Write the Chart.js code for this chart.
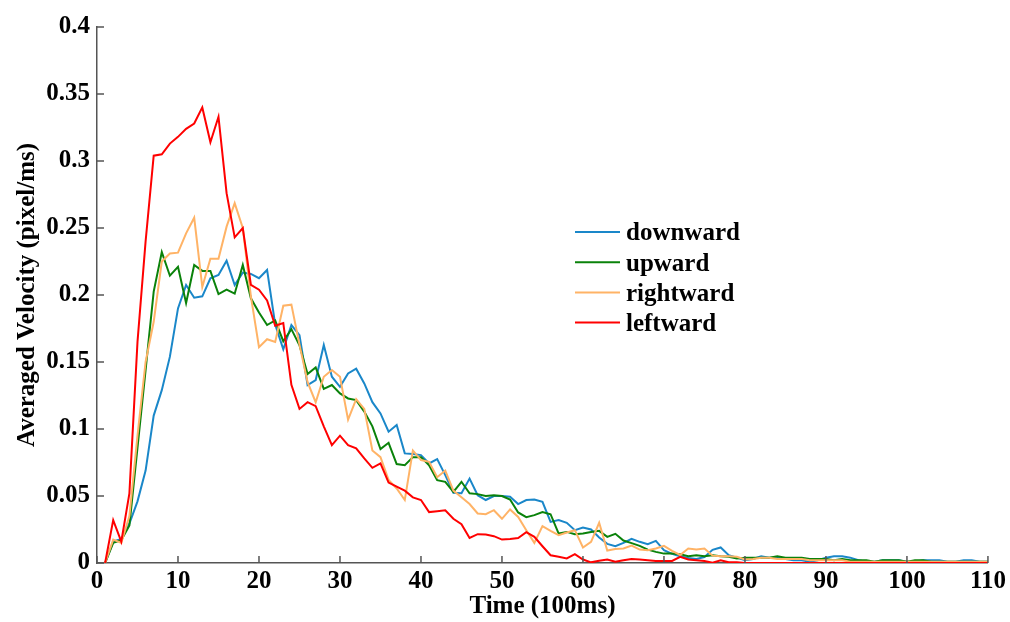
<!DOCTYPE html>
<html>
<head>
<meta charset="utf-8">
<script src="https://cdn.jsdelivr.net/npm/chart.js@4/dist/chart.umd.min.js"></script>
<style>
  html, body { margin: 0; padding: 0; background: #fff; }
  #wrap { width: 1010px; height: 622px; }
</style>
</head>
<body>
<div id="wrap"><canvas id="velocityChart" width="1010" height="622"></canvas></div>
<script>
// time axis (100ms steps), one sample per step
const time = Array.from({ length: 110 }, (_, i) => i + 1);

const downward = [
  0, 0.016, 0.018, 0.0295, 0.046, 0.069, 0.110, 0.129, 0.154, 0.190,
  0.2075, 0.198, 0.199, 0.2125, 0.215, 0.2256, 0.2075, 0.2167, 0.2157, 0.2125,
  0.2187, 0.178, 0.1594, 0.1776, 0.170, 0.1328, 0.1365, 0.1627, 0.139, 0.1315,
  0.1415, 0.145, 0.134, 0.120, 0.1116, 0.098, 0.103, 0.0818, 0.0813, 0.0805,
  0.0743, 0.0775, 0.0656, 0.0524, 0.052, 0.063, 0.0506, 0.047, 0.050, 0.050,
  0.0494, 0.044, 0.047, 0.0474, 0.0456, 0.0307, 0.032, 0.030, 0.0245, 0.0265,
  0.025, 0.019, 0.0143, 0.0125, 0.015, 0.018, 0.0158, 0.014, 0.0165, 0.0096,
  0.0068, 0.005, 0.0037, 0.003, 0.0045, 0.0098, 0.0116, 0.0058, 0.004, 0.002,
  0.003, 0.005, 0.004, 0.004, 0.003, 0.002, 0.002, 0.001, 0.002, 0.004,
  0.005, 0.005, 0.004, 0.002, 0.001, 0.001, 0.002, 0.002, 0.002, 0.001,
  0.001, 0.002, 0.002, 0.002, 0.001, 0.001, 0.002, 0.002, 0.001, 0.001
];

const upward = [
  0, 0.015, 0.017, 0.028, 0.086, 0.144, 0.2025, 0.232, 0.2144, 0.221,
  0.194, 0.2224, 0.218, 0.218, 0.2007, 0.204, 0.201, 0.2224, 0.1975, 0.187,
  0.1776, 0.181, 0.1655, 0.1745, 0.1625, 0.141, 0.146, 0.130, 0.1328, 0.1266,
  0.1228, 0.1216, 0.113, 0.102, 0.085, 0.0897, 0.0738, 0.073, 0.079, 0.079,
  0.073, 0.0618, 0.0606, 0.053, 0.0606, 0.052, 0.0514, 0.050, 0.0506, 0.050,
  0.0474, 0.0377, 0.0342, 0.0357, 0.038, 0.0364, 0.022, 0.0232, 0.0215, 0.022,
  0.0232, 0.024, 0.0195, 0.0218, 0.0168, 0.0148, 0.0128, 0.010, 0.0083, 0.007,
  0.007, 0.0066, 0.005, 0.0058, 0.005, 0.0058, 0.005, 0.0046, 0.0034, 0.004,
  0.004, 0.004, 0.004, 0.005, 0.004, 0.004, 0.004, 0.003, 0.003, 0.003,
  0.002, 0.003, 0.002, 0.002, 0.002, 0.001, 0.002, 0.002, 0.002, 0.001,
  0.002, 0.002, 0.001, 0.001, 0.001, 0.001, 0.001, 0.001, 0.001, 0.001
];

const rightward = [
  0, 0.0175, 0.015, 0.035, 0.095, 0.15, 0.18, 0.225, 0.231, 0.2316,
  0.246, 0.2577, 0.206, 0.227, 0.227, 0.251, 0.2685, 0.25, 0.199, 0.161,
  0.167, 0.165, 0.192, 0.1928, 0.163, 0.135, 0.120, 0.139, 0.144, 0.139,
  0.107, 0.1223, 0.115, 0.084, 0.079, 0.062, 0.0556, 0.047, 0.084, 0.0768,
  0.0755, 0.064, 0.069, 0.054, 0.049, 0.044, 0.037, 0.0364, 0.0394, 0.033,
  0.040, 0.0344, 0.0245, 0.015, 0.0275, 0.024, 0.0208, 0.0228, 0.0245, 0.0116,
  0.0158, 0.030, 0.0093, 0.0105, 0.0108, 0.013, 0.010, 0.0096, 0.0108, 0.0128,
  0.009, 0.006, 0.0108, 0.010, 0.0108, 0.0055, 0.005, 0.005, 0.0046, 0.0026,
  0.003, 0.004, 0.004, 0.003, 0.003, 0.003, 0.003, 0.002, 0.002, 0.002,
  0.002, 0.002, 0.001, 0.001, 0.001, 0.001, 0.001, 0.001, 0.001, 0.001,
  0.001, 0.001, 0.001, 0.001, 0.001, 0.001, 0.001, 0.001, 0.001, 0.001
];

const leftward = [
  0, 0.032, 0.016, 0.052, 0.165, 0.24, 0.304, 0.305, 0.313, 0.318,
  0.324, 0.328, 0.340, 0.314, 0.333, 0.276, 0.243, 0.250, 0.2075, 0.204,
  0.196, 0.177, 0.179, 0.133, 0.115, 0.120, 0.117, 0.102, 0.088, 0.095,
  0.088, 0.0855, 0.078, 0.071, 0.0743, 0.060, 0.057, 0.054, 0.049, 0.047,
  0.038, 0.0387, 0.0394, 0.033, 0.029, 0.0187, 0.0215, 0.0213, 0.020, 0.0175,
  0.018, 0.0187, 0.023, 0.0195, 0.0125, 0.0058, 0.0046, 0.0034, 0.0066, 0.0026,
  0.0005, 0.0016, 0.0026, 0.001, 0.002, 0.003, 0.0026, 0.002, 0.0015, 0.0015,
  0.0015, 0.0046, 0.0026, 0.002, 0.0015, 0.0002, 0.002, 0.0005, 0.0005, 0,
  0, 0, 0, 0, 0, 0, 0, 0, 0, 0,
  0, 0, 0, 0, 0, 0, 0, 0, 0, 0,
  0, 0, 0, 0, 0, 0, 0, 0, 0, 0
];

const seriesNames = ['downward', 'upward', 'rightward', 'leftward'];
const seriesColors = ['#1a87c9', '#0a820a', '#ffb366', '#ff0000'];
const seriesValues = [downward, upward, rightward, leftward];

const FONT = '"Liberation Serif", "Times New Roman", serif';
const AXIS_COLOR = '#555';

function toPoints(values) {
  return values.map((v, i) => ({ x: time[i], y: v }));
}

// ticks drawn inside the plot, like the original figure
const innerTicks = {
  id: 'innerTicks',
  afterDraw(chart) {
    const ctx = chart.ctx;
    const area = chart.chartArea;
    const xs = chart.scales.x;
    const ys = chart.scales.y;
    ctx.save();
    ctx.strokeStyle = AXIS_COLOR;
    ctx.lineWidth = 1.5;
    ctx.beginPath();
    xs.ticks.forEach(t => {
      const px = xs.getPixelForValue(t.value);
      ctx.moveTo(px, area.bottom);
      ctx.lineTo(px, area.bottom - 7);
    });
    ys.ticks.forEach(t => {
      const py = ys.getPixelForValue(t.value);
      ctx.moveTo(area.left, py);
      ctx.lineTo(area.left + 7, py);
    });
    ctx.stroke();
    ctx.restore();
  }
};

// legend box inside the plot area, no frame
const innerLegend = {
  id: 'innerLegend',
  afterDraw(chart) {
    const ctx = chart.ctx;
    const left = 575;
    const top = 232;
    const step = 30.2;
    ctx.save();
    ctx.font = 'bold 25px ' + FONT;
    ctx.textBaseline = 'middle';
    ctx.textAlign = 'left';
    chart.data.datasets.forEach((ds, i) => {
      const y = top + i * step;
      ctx.strokeStyle = ds.borderColor;
      ctx.lineWidth = 2;
      ctx.beginPath();
      ctx.moveTo(left, y);
      ctx.lineTo(left + 45, y);
      ctx.stroke();
      ctx.fillStyle = '#000';
      ctx.fillText(ds.label, left + 51, y + 2);
    });
    ctx.restore();
  }
};

const datasets = seriesNames.map((name, i) => ({
  label: name,
  data: toPoints(seriesValues[i]),
  borderColor: seriesColors[i],
  backgroundColor: seriesColors[i],
  borderWidth: 2,
  pointRadius: 0,
  fill: false,
  tension: 0,
  order: 4 - i
}));

new Chart(document.getElementById('velocityChart'), {
  type: 'line',
  data: { datasets: datasets },
  options: {
    responsive: false,
    animation: false,
    events: [],
    layout: { padding: { left: 0, top: 27, right: 21, bottom: 0 } },
    plugins: {
      legend: { display: false },
      tooltip: { enabled: false }
    },
    scales: {
      x: {
        type: 'linear',
        min: 0,
        max: 110,
        grid: { display: false, drawTicks: false },
        border: { display: true, color: AXIS_COLOR, width: 1.5 },
        ticks: {
          stepSize: 10,
          padding: 4,
          color: '#000',
          maxRotation: 0,
          font: { family: FONT, size: 25, weight: 'bold' }
        },
        title: {
          display: true,
          text: 'Time (100ms)',
          color: '#000',
          padding: { top: 0, bottom: 0 },
          font: { family: FONT, size: 25, weight: 'bold' }
        },
        afterFit(scale) { scale.height = 59; }
      },
      y: {
        min: 0,
        max: 0.4,
        grid: { display: false, drawTicks: false },
        border: { display: true, color: AXIS_COLOR, width: 1.5 },
        ticks: {
          stepSize: 0.05,
          padding: 7,
          color: '#000',
          font: { family: FONT, size: 25, weight: 'bold' },
          callback: v => String(+v.toFixed(2))
        },
        title: {
          display: true,
          text: 'Averaged Velocity (pixel/ms)',
          color: '#000',
          padding: { top: 13, bottom: 0 },
          font: { family: FONT, size: 25, weight: 'bold' }
        },
        afterFit(scale) { scale.width = 97; }
      }
    }
  },
  plugins: [innerTicks, innerLegend]
});
</script>
</body>
</html>
